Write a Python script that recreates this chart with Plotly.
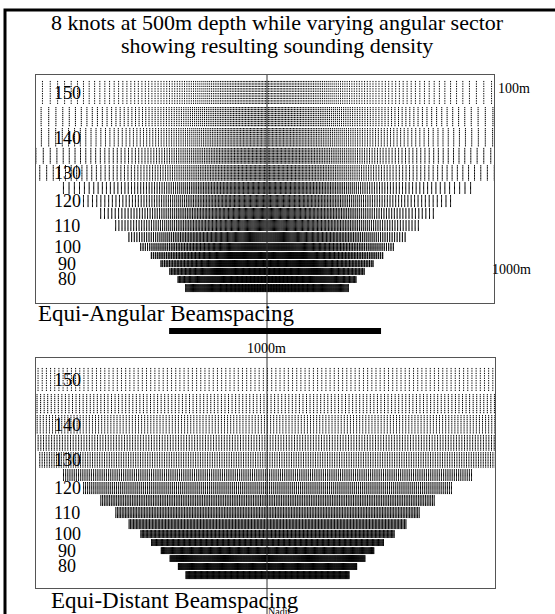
import numpy as np
import plotly.graph_objects as go

# ---------------- data ----------------
DEPTH_M = 500          # water depth
N_BEAMS = 191          # beams per ping
N_PINGS = 10           # pings drawn per sector band
TICK_LEN_M = 6         # length of each sounding mark (along-track)
SCALE_BAR_M = 1000

# angular sectors (deg), one band each, top to bottom
sectors = [150, 145, 140, 135, 130, 125, 120, 115, 110, 105, 100, 95, 90, 85, 80, 75]
# along-track extent of each band (m)
row_start_m = [28, 151, 250, 344, 425, 505, 566, 627, 684, 741, 792, 835, 873, 910, 948, 986]
row_end_m = [142, 245, 340, 420, 500, 561, 623, 679, 736, 788, 830, 868, 906, 943, 981, 1024]

label_sectors = [150, 140, 130, 120, 110, 100, 90, 80]
title_lines = ["8 knots at 500m depth while varying angular sector",
               "showing resulting sounding density"]
panel_names = ["Equi-Angular Beamspacing", "Equi-Distant Beamspacing"]
depth_labels = ["100m", "1000m"]

X_RANGE = [-1090, 1071]
Y_RANGE_TOP = [1075.5, 0]
Y_RANGE_BOT = [1066, -19]

W, H = 555, 614
SERIF = "Liberation Serif, Times New Roman, serif"


def beam_positions(sector, mode):
    half = np.radians(sector / 2.0)
    if mode == "angular":
        return DEPTH_M * np.tan(np.linspace(-half, half, N_BEAMS))
    w = DEPTH_M * np.tan(half)
    return np.linspace(-w, w, N_BEAMS)


def build(mode):
    xs, ys = [], []
    for s, a, b in zip(sectors, row_start_m, row_end_m):
        xb = beam_positions(s, mode)
        xb = xb[np.abs(xb) <= 1150]
        step = (b - a) / N_PINGS
        for k in range(N_PINGS):
            y0 = a + k * step
            y1 = min(y0 + TICK_LEN_M, b)
            n = len(xb)
            px = np.empty((n, 3))
            py = np.empty((n, 3))
            px[:, 0] = xb
            px[:, 1] = xb
            px[:, 2] = np.nan
            py[:, 0] = y0
            py[:, 1] = y1
            py[:, 2] = np.nan
            xs.append(px.ravel())
            ys.append(py.ravel())
    x = np.round(np.concatenate(xs), 1)
    y = np.round(np.concatenate(ys), 1)
    xl = [None if np.isnan(v) else float(v) for v in x]
    yl = [None if np.isnan(v) else float(v) for v in y]
    return xl, yl


def py_(p):
    return 1 - p / H


fig = go.Figure()
for i, (mode, xa, ya) in enumerate([("angular", "x", "y"), ("distant", "x2", "y2")]):
    xl, yl = build(mode)
    fig.add_trace(go.Scatter(x=xl, y=yl, mode="lines", xaxis=xa, yaxis=ya,
                             line=dict(color="black", width=1),
                             hoverinfo="skip", showlegend=False, connectgaps=False))

axis_common = dict(showgrid=False, zeroline=False, showticklabels=False, ticks="",
                   showline=True, mirror=True, linecolor="#555", linewidth=1)
fig.update_layout(
    width=W, height=H, margin=dict(l=0, r=0, t=0, b=0),
    paper_bgcolor="white", plot_bgcolor="white", showlegend=False,
    xaxis=dict(domain=[36 / W, 494 / W], range=X_RANGE, anchor="y", **axis_common),
    yaxis=dict(domain=[py_(303), py_(75)], range=Y_RANGE_TOP, anchor="x", **axis_common),
    xaxis2=dict(domain=[36 / W, 495 / W], range=X_RANGE, anchor="y2", **axis_common),
    yaxis2=dict(domain=[py_(588), py_(358)], range=Y_RANGE_BOT, anchor="x2", **axis_common),
)

shapes = []
# outer frame
shapes.append(dict(type="rect", xref="paper", yref="paper", x0=5 / W, x1=1.05,
                   y0=-0.05, y1=py_(10), line=dict(color="black", width=3)))
# nadir line
shapes.append(dict(type="line", xref="x", yref="paper", x0=0, x1=0,
                   y0=-0.02, y1=py_(75), line=dict(color="#333", width=1), layer="above"))
# scale bar
bar_start = -462
shapes.append(dict(type="rect", xref="x", yref="paper", x0=bar_start, x1=bar_start + SCALE_BAR_M,
                   y0=py_(334), y1=py_(328), fillcolor="black", line=dict(width=0)))
fig.update_layout(shapes=shapes)

ann = []
for j, t in enumerate(title_lines):
    ann.append(dict(text=t, xref="paper", yref="paper", x=277 / W, y=py_(22 + 23 * j),
                    xanchor="center", yanchor="middle", showarrow=False,
                    font=dict(family=SERIF, size=22, color="black")))
# sector labels
for yref in ["y", "y2"]:
    for s in label_sectors:
        k = sectors.index(s)
        yc = (row_start_m[k] + row_end_m[k]) / 2
        ann.append(dict(text=str(s), xref="paper", yref=yref, x=67 / W, y=yc,
                        xanchor="center", yanchor="middle", showarrow=False,
                        font=dict(family=SERIF, size=18, color="black")))
ann.append(dict(text=panel_names[0], xref="paper", yref="paper", x=36 / W, y=py_(313),
                xanchor="left", yanchor="middle", showarrow=False,
                font=dict(family=SERIF, size=23, color="black")))
ann.append(dict(text=panel_names[1], xref="paper", yref="paper", x=49 / W, y=py_(600),
                xanchor="left", yanchor="middle", showarrow=False,
                font=dict(family=SERIF, size=23, color="black")))
ann.append(dict(text=depth_labels[0], xref="paper", yref="paper", x=496 / W, y=py_(88),
                xanchor="left", yanchor="middle", showarrow=False,
                font=dict(family=SERIF, size=14, color="black")))
ann.append(dict(text=depth_labels[1], xref="paper", yref="paper", x=490 / W, y=py_(269),
                xanchor="left", yanchor="middle", showarrow=False,
                font=dict(family=SERIF, size=14, color="black")))
ann.append(dict(text=f"{SCALE_BAR_M}m", xref="x", yref="paper", x=bar_start + SCALE_BAR_M / 2 - 40,
                y=py_(348), xanchor="center", yanchor="middle", showarrow=False,
                font=dict(family=SERIF, size=14, color="black")))
ann.append(dict(text="Nadir", xref="paper", yref="paper", x=279 / W, y=py_(604),
                xanchor="center", yanchor="top", showarrow=False,
                font=dict(family=SERIF, size=10, color="black")))
fig.update_layout(annotations=ann)

fig.write_html("out.html")
